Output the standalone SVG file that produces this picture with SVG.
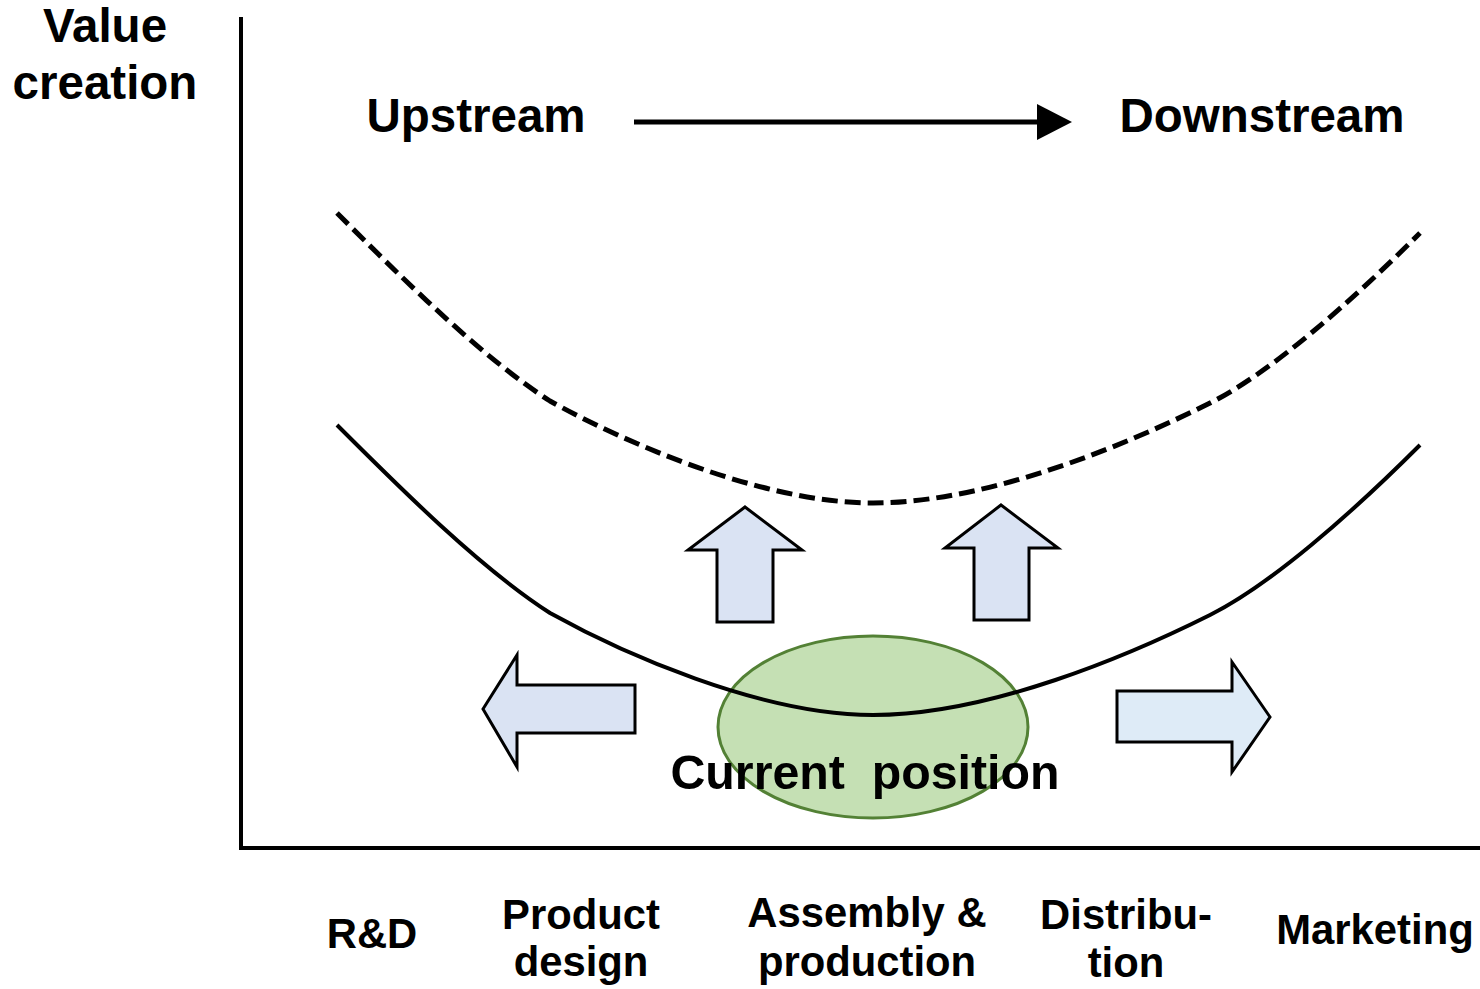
<svg xmlns="http://www.w3.org/2000/svg" width="1480" height="989" viewBox="0 0 1480 989">
<style>
text{font-family:"Liberation Sans",Arial,sans-serif;font-weight:bold;fill:#000;text-anchor:middle}
.big{font-size:47.5px}
.lbl{font-size:41.8px}
.curve{fill:none;stroke:#000;stroke-width:4}
.blk{fill:#dae3f3;stroke:#000;stroke-width:3;stroke-linejoin:miter}
</style>
<rect width="1480" height="989" fill="#fff"/>
<g id="axes">
<line x1="241" y1="17" x2="241" y2="850" stroke="#000" stroke-width="4"/>
<line x1="239" y1="848" x2="1480" y2="848" stroke="#000" stroke-width="4"/>
</g>
<g id="connectors">
<line x1="634" y1="122" x2="1040" y2="122" stroke="#000" stroke-width="5"/>
<polygon points="1037,104 1072,122 1037,140" fill="#000"/>
<path id="dashed-curve" class="curve" style="stroke-width:5" stroke-dasharray="16 7" transform="translate(0,-212)" d="M337,425 C400,488 480,568 550,613 C620,652 760,715 873,715 C990,715 1130,655 1210,615 C1270,585 1350,515 1420,445"/>
</g>
<g id="current-position">
<ellipse cx="873" cy="727" rx="155" ry="91" fill="#c5e0b4" stroke="#538135" stroke-width="3"/>
</g>
<g id="value-curve">
<path class="curve" d="M337,425 C400,488 480,568 550,613 C620,652 760,715 873,715 C990,715 1130,655 1210,615 C1270,585 1350,515 1420,445"/>
</g>
<g id="arrow-up-left"><polygon class="blk" points="745,507 802,550 773,550 773,622 717,622 717,550 688,550"/></g>
<g id="arrow-up-right"><polygon class="blk" points="1001,505 1058,548 1029,548 1029,620 974,620 974,548 945,548"/></g>
<g id="arrow-left"><polygon class="blk" points="483,709 517,655 517,685 635,685 635,733 517,733 517,767"/></g>
<g id="arrow-right"><polygon class="blk" style="fill:#deebf7" points="1270,717 1232,662 1232,691 1117,691 1117,742 1232,742 1232,772"/></g>
<g id="labels">
<text class="big" x="105" y="42">Value</text>
<text class="big" x="105" y="99">creation</text>
<text class="big" x="476" y="132">Upstream</text>
<text class="big" x="1262" y="132">Downstream</text>
<text class="big" x="865" y="789" style="font-size:48.3px">Current&#160; position</text>
<text class="lbl" x="372" y="948">R&amp;D</text>
<text class="lbl" x="581" y="929">Product</text>
<text class="lbl" x="581" y="976">design</text>
<text class="lbl" x="867" y="927">Assembly &amp;</text>
<text class="lbl" x="867" y="976">production</text>
<text class="lbl" x="1126" y="929">Distribu-</text>
<text class="lbl" x="1126" y="977">tion</text>
<text class="lbl" x="1375" y="944">Marketing</text>
</g>
</svg>
